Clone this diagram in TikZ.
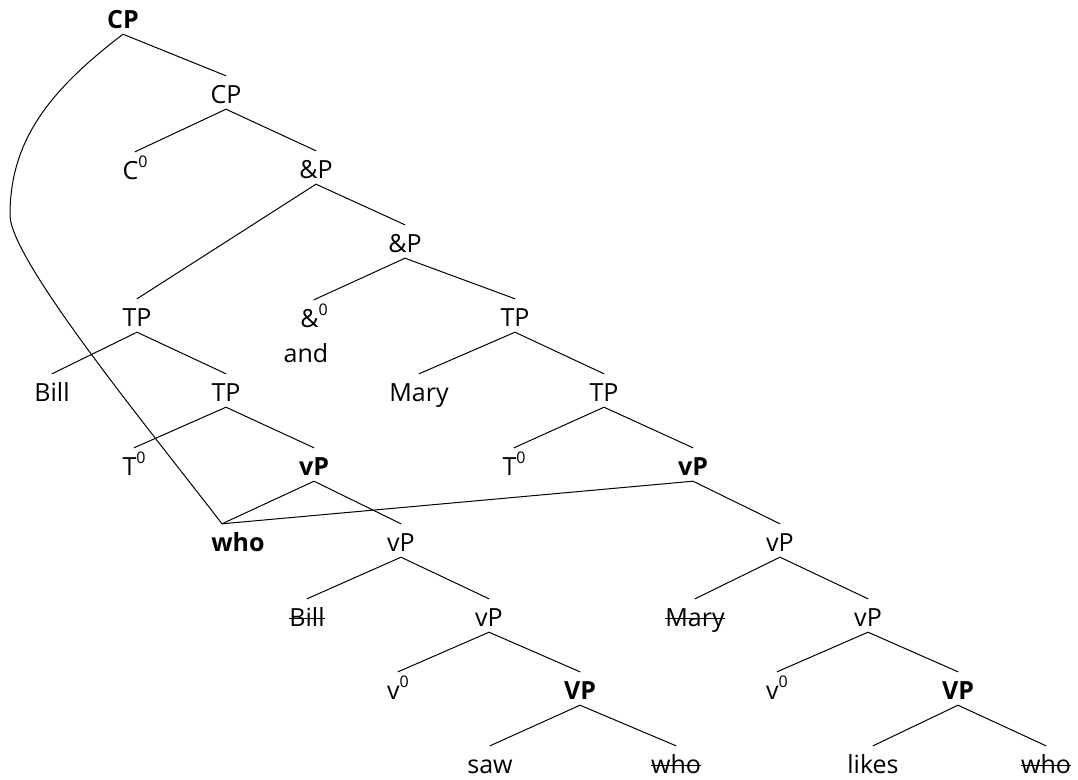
\documentclass[tikz,border=0pt]{standalone}
\usepackage{fontspec}
\setmainfont{Open Sans}
\newcommand{\zsup}{\raisebox{12pt}{\fontsize{16}{16}\selectfont 0}}
\newcommand{\strk}[1]{\setbox0\hbox{#1}\rlap{\rule[7pt]{\wd0}{1.5pt}}\box0}
\begin{document}
\begin{tikzpicture}[x=1pt,y=-1pt,
  lab/.style={anchor=base, inner sep=0pt, text height=27pt, text depth=6pt, font=\fontsize{25}{30}\selectfont},
  blab/.style={lab, font=\fontsize{25}{30}\selectfont\bfseries},
  edge/.style={line width=1pt, line cap=round}]
\useasboundingbox (0,0) rectangle (1078,779);
\fill[white] (0,0) rectangle (1078,779);
% nodes
\node[blab] (cp0) at (123,28) {CP};
\node[lab] (cp1) at (226,103) {CP};
\node[lab] (c0) at (135,179) {C\zsup};
\node[lab] (ap1) at (316,178) {\&P};
\node[lab] (tpl) at (137,326) {TP};
\node[lab] (ap2) at (405,252) {\&P};
\node[lab] (a0) at (314,327) {\&\zsup};
\node[lab] (and) at (306,362) {and};
\node[lab] (tpr) at (515,326) {TP};
\node[lab] (bill) at (52,401) {Bill};
\node[lab] (tpl2) at (226,401) {TP};
\node[lab] (mary) at (419,401) {Mary};
\node[lab] (tpr2) at (604,401) {TP};
\node[lab] (t0l) at (134,475) {T\zsup};
\node[blab] (vpl) at (314,475) {vP};
\node[lab] (t0r) at (514,475) {T\zsup};
\node[blab] (vpr) at (693,475) {vP};
\node[blab] (who) at (238,551) {who};
\node[lab] (vpl2) at (401,551) {vP};
\node[lab] (vpr2) at (780,551) {vP};
\node[lab] (bills) at (307,626) {\strk{Bill}};
\node[lab] (vpl3) at (489,626) {vP};
\node[lab] (marys) at (695,626) {\strk{Mary}};
\node[lab] (vpr3) at (868,626) {vP};
\node[lab] (v0l) at (398,699) {v\zsup};
\node[blab] (VPl) at (580,699) {VP};
\node[lab] (v0r) at (777,699) {v\zsup};
\node[blab] (VPr) at (958,699) {VP};
\node[lab] (saw) at (490,773) {saw};
\node[lab] (whol) at (676,773) {\strk{who}};
\node[lab] (likes) at (873,773) {likes};
\node[lab] (whor) at (1046,773) {\strk{who}};
\coordinate (whotop) at ([xshift=-16pt]who.north);
\coordinate (bend) at (10,215);
% edges
\draw[edge] (cp0.south) -- (cp1.north);
\draw[edge] (cp1.south) -- (c0.north);
\draw[edge] (cp1.south) -- (ap1.north);
\draw[edge] (ap1.south) -- (tpl.north);
\draw[edge] (ap1.south) -- (ap2.north);
\draw[edge] (ap2.south) -- (a0.north);
\draw[edge] (ap2.south) -- (tpr.north);
\draw[edge] (tpl.south) -- (bill.north);
\draw[edge] (tpl.south) -- (tpl2.north);
\draw[edge] (tpl2.south) -- (t0l.north);
\draw[edge] (tpl2.south) -- (vpl.north);
\draw[edge] (vpl.south) -- (whotop);
\draw[edge] (vpl.south) -- (vpl2.north);
\draw[edge] (vpl2.south) -- (bills.north);
\draw[edge] (vpl2.south) -- (vpl3.north);
\draw[edge] (vpl3.south) -- (v0l.north);
\draw[edge] (vpl3.south) -- (VPl.north);
\draw[edge] (VPl.south) -- (saw.north);
\draw[edge] (VPl.south) -- (whol.north);
\draw[edge] (tpr.south) -- (mary.north);
\draw[edge] (tpr.south) -- (tpr2.north);
\draw[edge] (tpr2.south) -- (t0r.north);
\draw[edge] (tpr2.south) -- (vpr.north);
\draw[edge] (vpr.south) -- (whotop);
\draw[edge] (vpr.south) -- (vpr2.north);
\draw[edge] (vpr2.south) -- (marys.north);
\draw[edge] (vpr2.south) -- (vpr3.north);
\draw[edge] (vpr3.south) -- (v0r.north);
\draw[edge] (vpr3.south) -- (VPr.north);
\draw[edge] (VPr.south) -- (likes.north);
\draw[edge] (VPr.south) -- (whor.north);
\draw[edge] (cp0.south) .. controls (50,90) and (10,140) .. (bend)
  .. controls (10,260) and (150,430) .. (whotop);
\end{tikzpicture}
\end{document}
